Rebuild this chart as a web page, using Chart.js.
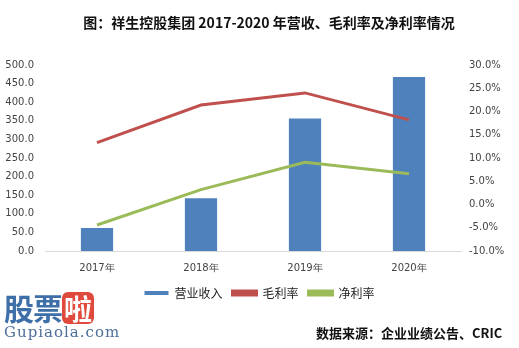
<!DOCTYPE html>
<html>
<head>
<meta charset="utf-8">
<script src="https://cdn.jsdelivr.net/npm/chart.js@4"></script>
<style>
	body { margin: 0; background: #fff; }
	#wrap { position: relative; width: 519px; height: 348px; }
	#title { position: absolute; left: 0; top: 12px; width: 538px; text-align: center; font: bold 14px "Noto Sans CJK SC", sans-serif; color: #111; white-space: nowrap; }
	#source { position: absolute; left: 316px; top: 323px; font: bold 13px "Noto Sans CJK SC", sans-serif; color: #111; white-space: nowrap; }
	#logo { position: absolute; left: 4px; top: 290px; font-family: "Noto Sans CJK SC", sans-serif; }
	#logo .gp { font-weight: bold; font-size: 30px; color: #3f6fa8; letter-spacing: -1px; line-height: 34px; }
	#logo .la { display: inline-block; background: #e04a3c; color: #fff; border-radius: 6px; font-size: 28px; line-height: 32px; padding: 0 2px; font-weight: bold; }
	#logo .url { font: 15px "DejaVu Serif", serif; color: #4d6f99; letter-spacing: 1px; margin-top: -2px; }
</style>
</head>
<body>
<div id="wrap">
	<canvas id="chart" width="519" height="348"></canvas>
	<div id="title">图：祥生控股集团 2017-2020 年营收、毛利率及净利率情况</div>
	<div id="logo"><span class="gp">股票</span><span class="la">啦</span><div class="url">Gupiaola.com</div></div>
	<div id="source">数据来源：企业业绩公告、CRIC</div>
</div>
<script>
// data
const years = ['2017年', '2018年', '2019年', '2020年'];
const revenue = [62, 142, 356, 468];
const grossMargin = [13.3, 21.4, 24.0, 18.2];
const netMargin = [-4.4, 3.2, 9.1, 6.6];

const tickFont = { family: 'DejaVu Sans', size: 10 };

new Chart('chart', {
	data: {
		labels: years,
		datasets: [{
			type: 'bar',
			label: '营业收入',
			data: revenue,
			yAxisID: 'y',
			backgroundColor: '#4F81BD',
			categoryPercentage: 1,
			barPercentage: 0.31,
			order: 3
		}, {
			type: 'line',
			label: '毛利率',
			data: grossMargin,
			yAxisID: 'y2',
			borderColor: '#C0504D',
			backgroundColor: '#C0504D',
			borderWidth: 3,
			pointRadius: 0,
			tension: 0,
			order: 1
		}, {
			type: 'line',
			label: '净利率',
			data: netMargin,
			yAxisID: 'y2',
			borderColor: '#9BBB59',
			backgroundColor: '#9BBB59',
			borderWidth: 3,
			pointRadius: 0,
			tension: 0,
			order: 2
		}]
	},
	options: {
		responsive: false,
		animation: false,
		layout: { padding: { left: 0, right: 0, top: 65, bottom: 39 } },
		plugins: {
			legend: {
				position: 'bottom',
				labels: {
					font: { family: 'Noto Sans CJK SC', size: 12 },
					color: '#222',
					boxWidth: 24,
					boxHeight: 4,
					padding: 10,
					sort: (a, b) => a.datasetIndex - b.datasetIndex
				}
			},
			tooltip: { enabled: false }
		},
		scales: {
			x: {
				grid: { display: false },
				border: { color: '#d9d9d9' },
				ticks: { font: tickFont, color: '#444' }
			},
			y: {
				position: 'left',
				min: 0,
				max: 500,
				grid: { display: false },
				border: { display: false },
				ticks: {
					stepSize: 50,
					font: tickFont,
					color: '#444',
					callback: v => v.toFixed(1)
				},
				afterFit: s => { s.width = 45; }
			},
			y2: {
				position: 'right',
				min: -10,
				max: 30,
				grid: { display: false },
				border: { display: false },
				ticks: {
					stepSize: 5,
					font: tickFont,
					color: '#444',
					padding: 0,
					callback: v => v.toFixed(1) + '%'
				},
				afterFit: s => { s.width = 58; }
			}
		}
	}
});
</script>
</body>
</html>
